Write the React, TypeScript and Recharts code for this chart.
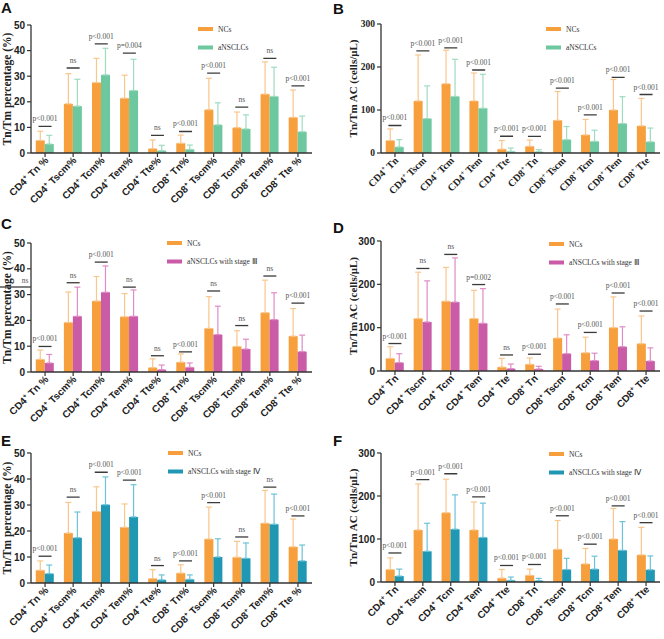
import React from "react";
import { ComposedChart, Bar, ErrorBar, Scatter, XAxis, YAxis, Legend } from "recharts";

// categories
const pctCats = ["CD4+ Tn %", "CD4+ Tscm%", "CD4+ Tcm%", "CD4+ Tem%", "CD4+ Tte%", "CD8+ Tn%", "CD8+ Tscm%", "CD8+ Tcm%", "CD8+ Tem%", "CD8+ Tte %"];
const acCats = ["CD4+ Tn", "CD4+ Tscm", "CD4+ Tcm", "CD4+ Tem", "CD4+ Tte", "CD8+ Tn", "CD8+ Tscm", "CD8+ Tcm", "CD8+ Tem", "CD8+ Tte"];

const pctTicks = [0, 10, 20, 30, 40, 50];
const acTicks = [0, 100, 200, 300];

// NCs: mean and mean+SD
const ncPct = [4.9, 19.2, 27.5, 21.4, 1.7, 3.8, 16.9, 9.9, 23.0, 13.9];
const ncPctTop = [8.5, 31.0, 37.0, 30.4, 5.1, 7.0, 29.2, 16.0, 35.6, 24.6];
const ncAc = [29, 121, 161, 121, 9, 15.5, 76, 42, 100, 63];
const ncAcTop = [56, 228, 239, 186, 29, 30, 143, 78, 171, 127];

// aNSCLCs (all)
const allPct = [3.5, 18.3, 30.5, 24.4, 0.9, 1.4, 11.0, 9.4, 22.1, 8.3];
const allPctTop = [6.9, 28.8, 40.9, 36.6, 3.0, 3.1, 19.6, 14.9, 33.5, 14.4];
const allAc = [14, 80, 131.5, 104, 3.8, 3, 31, 27, 68.5, 26];
const allAcTop = [31, 156, 218, 183, 11.5, 7.7, 61.5, 53, 131, 58];

// stage III
const s3Pct = [3.5, 21.6, 30.9, 21.6, 0.9, 1.8, 14.5, 8.9, 20.3, 7.9];
const s3PctTop = [6.8, 32.9, 41.1, 31.8, 2.7, 3.5, 25.5, 12.7, 30.7, 14.3];
const s3Ac = [19.3, 113, 159, 110, 5.4, 4.6, 40, 24, 56, 23];
const s3AcTop = [40, 208, 261, 190, 16, 10.8, 83.5, 41, 102, 53.4];

// stage IV
const s4Pct = [3.6, 17.4, 30.1, 25.4, 1.2, 1.4, 10.0, 9.5, 22.6, 8.5];
const s4PctTop = [6.9, 27.3, 40.8, 37.8, 3.1, 3.1, 17.0, 15.4, 34.2, 14.6];
const s4Ac = [13.8, 71.4, 122.8, 103.6, 3.8, 3, 29, 30, 73.7, 28.4];
const s4AcTop = [30, 136.6, 202.6, 183.4, 11.5, 8.4, 55, 60, 140.4, 60.6];

// significance brackets (height in axis units) and their text
const sigYA = [10.4, 33.2, 42.6, 39.0, 6.9, 8.4, 31.2, 17.9, 37.0, 26.2];
const sigYB = [64, 237.7, 244.6, 193, 39, 38.5, 150.8, 88.5, 176, 136];
const sigYC = [9.9, 34.6, 42.6, 32.9, 6.3, 7.8, 31.4, 18.0, 37.2, 26.7];
const sigYD = [63.4, 236.6, 269, 199.5, 37, 38.7, 154.7, 89, 180, 138.4];
const sigYE = [10.3, 33.0, 42.6, 39.6, 6.7, 8.5, 30.9, 17.7, 36.9, 25.8];
const sigYF = [67.5, 238, 251.7, 198, 38.4, 40.7, 154, 88, 177, 138];

const P = "p<0.001";
const sigA = [P, "ns", P, "p=0.004", "ns", P, P, "ns", "ns", P];
const sigB = [P, P, P, P, P, P, P, P, P, P];
const sigC = [P, "ns", P, "ns", "ns", P, "ns", "ns", "ns", P];
const sigD = [P, "ns", "ns", "p=0.002", "ns", P, P, P, P, P];
const sigE = [P, "ns", P, P, "ns", P, P, "ns", "ns", P];
const sigF = [P, P, P, P, P, P, P, P, P, P];

const ORANGE = "#f69f3c";
const ORANGE_ERR = "#f9c68c";
const GREEN = "#6dc8a0";
const GREEN_ERR = "#9fdbc1";
const MAGENTA = "#c95ba7";
const MAGENTA_ERR = "#df8cc6";
const TEAL = "#2098b3";
const TEAL_ERR = "#6cc3d8";

const SANS = "'Liberation Sans', Arial, sans-serif";
const SERIF = "'Liberation Serif', 'Times New Roman', serif";

const makeRows = (cats, nc, ncTop, pt, ptTop, sigY, sigText) =>
  cats.map((c, i) => ({
    cat: c,
    nc: nc[i],
    ncErr: [0, +(ncTop[i] - nc[i]).toFixed(2)],
    pt: pt[i],
    ptErr: [0, +(ptTop[i] - pt[i]).toFixed(2)],
    sig: sigY[i],
    sigText: sigText[i],
  }));

const XTick = (props: any) => {
  const { x, y, payload, serif } = props;
  const s = String(payload.value);
  const i = s.indexOf("+");
  return (
    <g transform={`translate(${x + 4},${y + 2})`}>
      <text
        transform="rotate(-45)"
        textAnchor="end"
        fontSize={10}
        fontWeight="bold"
        fontFamily={serif ? SERIF : SANS}
        fill="#222"
      >
        {s.slice(0, i)}
        <tspan fontSize={6.5} dy={-4}>+</tspan>
        <tspan dy={4}>{s.slice(i + 1)}</tspan>
      </text>
    </g>
  );
};

const SigMark = (props: any) => {
  const { cx, cy, payload } = props;
  if (cx == null || cy == null) return null;
  return (
    <g>
      <line x1={cx - 6.5} x2={cx + 6.5} y1={cy} y2={cy} stroke="#3a3a3a" strokeWidth={1.3} />
      <text
        x={cx}
        y={cy - 5}
        textAnchor="middle"
        fontSize={7.5}
        fontFamily={SERIF}
        style={{ fill: "#555", stroke: "none" }}
      >
        {payload.sigText}
      </text>
    </g>
  );
};

const Panel = (props: any) => {
  const {
    letter, left, top, plotTop, plotBottom, isAc, rows, ptName, ptColor, ptErr,
    legendX, legendY, yLabel, serifTicks, letterTop, extra,
  } = props;
  const H = 240;
  const axisW = isAc ? 49 : 31;
  const yMax = isAc ? 300 : 50;
  const labelX = isAc ? 21 : 7;

  const renderYLabel = (lp: any) => {
    const vb = lp.viewBox;
    const cx = vb.x + labelX;
    const cy = vb.y + vb.height / 2;
    return (
      <text
        x={cx}
        y={cy}
        transform={`rotate(-90, ${cx}, ${cy})`}
        textAnchor="middle"
        dominantBaseline="central"
        fontFamily={SERIF}
        fontWeight="bold"
        fontSize={isAc ? 11 : 11.5}
        fill="#222"
      >
        {yLabel}
      </text>
    );
  };

  const legend = () => (
    <svg width={180} height={30} style={{ display: "block", overflow: "visible" }}>
      <rect x={0} y={0} width={15} height={4} fill={ORANGE} />
      <text x={20} y={4.5} fontSize={7.5} fontFamily={SERIF} fill="#333">NCs</text>
      <rect x={0} y={18.5} width={15} height={4} fill={ptColor} />
      <text x={20} y={23} fontSize={7.5} fontFamily={SERIF} fill="#333">{ptName}</text>
    </svg>
  );

  return (
    <div style={{ position: "absolute", left, top, width: 332, height: H }}>
      <div
        style={{
          position: "absolute", left: 1, top: letterTop, fontFamily: SANS, fontWeight: "bold",
          fontSize: 15, lineHeight: "15px", color: "#111", zIndex: 2,
        }}
      >
        {letter}
      </div>
      <ComposedChart
        width={332}
        height={H}
        data={rows}
        margin={{ top: plotTop, right: isAc ? 4 : 20, bottom: 0, left: 0 }}
        barCategoryGap="17%"
        barGap={0}
        style={{ overflow: "visible" }}
      >
        <XAxis
          dataKey="cat"
          interval={0}
          height={H - plotBottom}
          tick={<XTick serif={serifTicks} />}
          tickSize={4}
          axisLine={{ stroke: "#333", strokeWidth: 1.3 }}
          tickLine={{ stroke: "#333", strokeWidth: 1.2 }}
        />
        <YAxis
          width={axisW}
          domain={[0, yMax]}
          ticks={isAc ? acTicks : pctTicks}
          allowDataOverflow
          tickSize={4}
          tickMargin={2}
          axisLine={{ stroke: "#333", strokeWidth: 1.3 }}
          tickLine={{ stroke: "#333", strokeWidth: 1.2 }}
          tick={{
            fontSize: serifTicks ? 9.5 : 10,
            fontWeight: "bold",
            fontFamily: serifTicks ? SERIF : SANS,
            fill: "#222",
          }}
          label={renderYLabel}
        />
        <Legend
          content={legend}
          layout="horizontal"
          verticalAlign="middle"
          align="center"
          wrapperStyle={{ position: "absolute", left: legendX, top: legendY, width: 180 }}
        />
        <Bar dataKey="nc" fill={ORANGE} isAnimationActive={false}>
          <ErrorBar dataKey="ncErr" width={3} stroke={ORANGE_ERR} strokeWidth={1.2} direction="y" />
        </Bar>
        <Bar dataKey="pt" fill={ptColor} isAnimationActive={false}>
          <ErrorBar dataKey="ptErr" width={3} stroke={ptErr} strokeWidth={1.2} direction="y" />
        </Bar>
        <Scatter dataKey="sig" shape={SigMark} isAnimationActive={false} legendType="none" />
      </ComposedChart>
      {extra}
    </div>
  );
};

export default function App() {
  const pctLabel = "Tn/Tm percentage (%)";
  const acLabel = "Tn/Tm AC (cells/μL)";
  return (
    <div
      style={{
        position: "absolute", left: 0, top: 0, width: 664, height: 639,
        background: "#fff", overflow: "hidden",
      }}
    >
      <Panel
        letter="A" left={0} top={0} letterTop={0} plotTop={25} plotBottom={153}
        rows={makeRows(pctCats, ncPct, ncPctTop, allPct, allPctTop, sigYA, sigA)}
        ptName="aNSCLCs" ptColor={GREEN} ptErr={GREEN_ERR}
        legendX={198} legendY={27} yLabel={pctLabel}
      />
      <Panel
        letter="B" left={332} top={0} letterTop={1} plotTop={24} plotBottom={153} isAc serifTicks
        rows={makeRows(acCats, ncAc, ncAcTop, allAc, allAcTop, sigYB, sigB)}
        ptName="aNSCLCs" ptColor={GREEN} ptErr={GREEN_ERR}
        legendX={214} legendY={27} yLabel={acLabel}
      />
      <Panel
        letter="C" left={0} top={210} letterTop={6} plotTop={33} plotBottom={162}
        rows={makeRows(pctCats, ncPct, ncPctTop, s3Pct, s3PctTop, sigYC, sigC)}
        ptName="aNSCLCs with stage Ⅲ" ptColor={MAGENTA} ptErr={MAGENTA_ERR}
        legendX={167} legendY={31} yLabel={pctLabel}
        extra={
          <svg width={40} height={90} style={{ position: "absolute", left: 0, top: 0 }}>
            <text x={25} y={73} textAnchor="middle" fontSize={7.5} fontFamily={SERIF} fill="#555">ns</text>
            <line x1={0} x2={31} y1={77} y2={77} stroke="#3a3a3a" strokeWidth={1.3} />
          </svg>
        }
      />
      <Panel
        letter="D" left={332} top={210} letterTop={10} plotTop={31} plotBottom={161} isAc
        rows={makeRows(acCats, ncAc, ncAcTop, s3Ac, s3AcTop, sigYD, sigD)}
        ptName="aNSCLCs with stage Ⅲ" ptColor={MAGENTA} ptErr={MAGENTA_ERR}
        legendX={217} legendY={32} yLabel={acLabel}
      />
      <Panel
        letter="E" left={0} top={420} letterTop={13} plotTop={33} plotBottom={163}
        rows={makeRows(pctCats, ncPct, ncPctTop, s4Pct, s4PctTop, sigYE, sigE)}
        ptName="aNSCLCs with stage Ⅳ" ptColor={TEAL} ptErr={TEAL_ERR}
        legendX={168} legendY={31} yLabel={pctLabel}
      />
      <Panel
        letter="F" left={332} top={420} letterTop={13} plotTop={33} plotBottom={162} isAc
        rows={makeRows(acCats, ncAc, ncAcTop, s4Ac, s4AcTop, sigYF, sigF)}
        ptName="aNSCLCs with stage Ⅳ" ptColor={TEAL} ptErr={TEAL_ERR}
        legendX={217} legendY={32} yLabel={acLabel}
      />
    </div>
  );
}
